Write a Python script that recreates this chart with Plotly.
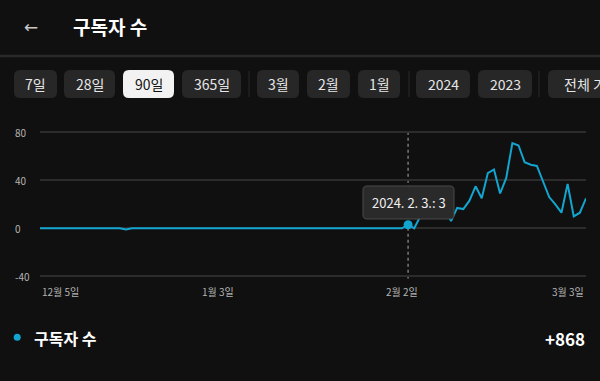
import pandas as pd
import plotly.graph_objects as go

W, H = 600, 381
FONT = "Noto Sans CJK KR"
BG = "#101010"
LINE = "#12a5cf"

# ---- data ----
start_date = "2023-12-05"
subscribers = [
    0, 0, 0, 0, 0, 0, 0, 0, 0, 0,
    0, 0, 0, 0, -1, 0, 0, 0, 0, 0,
    0, 0, 0, 0, 0, 0, 0, 0, 0, 0,
    0, 0, 0, 0, 0, 0, 0, 0, 0, 0,
    0, 0, 0, 0, 0, 0, 0, 0, 0, 0,
    0, 0, 0, 0, 0, 0, 0, 0, 0, 0,
    3, 0, 10, 20, 27, 22, 16, 6, 17, 16,
    23, 35, 25, 46, 49, 29, 42, 71, 69, 55,
    53, 52, 39, 26, 20, 13, 37, 10, 13, 25,
]
dates = pd.date_range(start_date, periods=len(subscribers), freq="D")

x_tick_dates = ["2023-12-05", "2024-01-03", "2024-02-02", "2024-03-03"]
x_tick_labels = ["12월 5일", "1월 3일", "2월 2일", "3월 3일"]
y_ticks = [80, 40, 0, -40]

highlight_date = "2024-02-03"
highlight_value = 3
tooltip_text = "2024. 2. 3.: 3"

buttons = ["7일", "28일", "90일", "365일", "3월", "2월", "1월", "2024", "2023", "전체 기간"]
selected_button = "90일"
total_label = "+868"
series_name = "구독자 수"
title = "구독자 수"

# ---- layout geometry (pixels) ----
button_x = [(14, 57), (64, 115), (123, 174), (182, 241), (257, 299), (307, 350),
            (358, 400), (416, 470), (478, 532), (548, 660)]
separators_x = [249, 409, 539]


def px(x):
    return x / W


def py(y):
    return 1 - y / H


def rrect(x0, y0, x1, y1, r):
    pts = [
        ("M", [(x0 + r, y0)]), ("L", [(x1 - r, y0)]), ("Q", [(x1, y0), (x1, y0 + r)]),
        ("L", [(x1, y1 - r)]), ("Q", [(x1, y1), (x1 - r, y1)]), ("L", [(x0 + r, y1)]),
        ("Q", [(x0, y1), (x0, y1 - r)]), ("L", [(x0, y0 + r)]), ("Q", [(x0, y0), (x0 + r, y0)]),
    ]
    s = ""
    for cmd, ps in pts:
        s += cmd + " " + " ".join(f"{px(a):.5f},{py(b):.5f}" for a, b in ps) + " "
    return s + "Z"


fig = go.Figure()
fig.add_trace(go.Scatter(x=dates, y=subscribers, mode="lines",
                         line=dict(color=LINE, width=2), hoverinfo="skip"))
fig.add_trace(go.Scatter(x=[highlight_date], y=[highlight_value], mode="markers",
                         marker=dict(color=LINE, size=9), hoverinfo="skip"))

# plot area: x 40..586 px ; y: value 0 at 228.3 px, 1.2 px per unit
y_lo, y_hi = -42, 82
top_px = 228.3 - y_hi * 1.2
bot_px = 228.3 - y_lo * 1.2

shapes = []
annotations = []

# header
shapes.append(dict(type="line", xref="paper", yref="paper", x0=0, x1=1,
                   y0=py(56), y1=py(56), line=dict(color="#2a2a2a", width=2.5)))
annotations.append(dict(xref="paper", yref="paper", x=px(31), y=py(27), text="←",
                        showarrow=False, font=dict(family="DejaVu Sans", size=17, color="#c8c8c8"),
                        xanchor="center", yanchor="middle"))
annotations.append(dict(xref="paper", yref="paper", x=px(71), y=py(27), text=f"<b>{title}</b>",
                        showarrow=False, font=dict(family=FONT, size=19, color="#ffffff"),
                        xanchor="left", yanchor="middle"))

# buttons
for label, (bx0, bx1) in zip(buttons, button_x):
    sel = label == selected_button
    shapes.append(dict(type="path", xref="paper", yref="paper",
                       path=rrect(bx0, 70, bx1, 98, 6),
                       fillcolor="#f2f2f2" if sel else "#272727", line=dict(width=0)))
    if bx1 > W:
        annotations.append(dict(xref="paper", yref="paper", x=px(bx0 + 14), y=py(84), text=label,
                                showarrow=False, xanchor="left", yanchor="middle",
                                font=dict(family=FONT, size=14, color="#e6e6e6")))
    else:
        annotations.append(dict(xref="paper", yref="paper", x=px((bx0 + bx1) / 2), y=py(84),
                                text=label, showarrow=False, xanchor="center", yanchor="middle",
                                font=dict(family=FONT, size=14,
                                          color="#111111" if sel else "#e6e6e6")))
for sx in separators_x:
    shapes.append(dict(type="line", xref="paper", yref="paper", x0=px(sx), x1=px(sx),
                       y0=py(71), y1=py(97), line=dict(color="#262626", width=1.2)))

# dashed crosshair
shapes.append(dict(type="line", xref="x", yref="y", x0=highlight_date, x1=highlight_date,
                   y0=y_lo, y1=y_hi, line=dict(color="#7a7a7a", width=1.5, dash="3px,3px"),
                   layer="below"))

# tooltip
shapes.append(dict(type="path", xref="paper", yref="paper", path=rrect(363, 186, 454, 219, 4),
                   fillcolor="#2a2a2a", line=dict(color="#4a4a4a", width=1), layer="above"))
annotations.append(dict(xref="paper", yref="paper", x=px(408.5), y=py(202.5), text=tooltip_text,
                        showarrow=False, xanchor="center", yanchor="middle",
                        font=dict(family=FONT, size=13, color="#f0f0f0")))

# y tick labels (left aligned)
for v in y_ticks:
    annotations.append(dict(xref="paper", yref="y", x=px(13), y=v, text=str(v), showarrow=False,
                            xanchor="left", yanchor="middle",
                            font=dict(family=FONT, size=10, color="#b4b4b4")))

# x tick labels
anchors = ["left", "center", "center", "right"]
for d, lab, a in zip(x_tick_dates, x_tick_labels, anchors):
    annotations.append(dict(xref="x", yref="paper", x=d, y=py(291.5), text=lab, showarrow=False,
                            xanchor=a, yanchor="middle",
                            font=dict(family=FONT, size=10, color="#b4b4b4")))

# legend row
shapes.append(dict(type="circle", xref="paper", yref="paper", x0=px(13.7), x1=px(20.7),
                   y0=py(333.8), y1=py(340.8), fillcolor=LINE, line=dict(width=0)))
annotations.append(dict(xref="paper", yref="paper", x=px(32), y=py(337.5),
                        text=f"<b>{series_name}</b>", showarrow=False, xanchor="left",
                        yanchor="middle", font=dict(family=FONT, size=16, color="#ffffff")))
annotations.append(dict(xref="paper", yref="paper", x=px(587), y=py(338),
                        text=f"<b>{total_label}</b>", showarrow=False, xanchor="right",
                        yanchor="middle", font=dict(family=FONT, size=17, color="#ffffff")))

fig.update_layout(
    width=W, height=H, margin=dict(l=0, r=0, t=0, b=0),
    paper_bgcolor=BG, plot_bgcolor=BG, showlegend=False,
    font=dict(family=FONT),
    xaxis=dict(domain=[px(40), px(586)], type="date",
               range=[dates[0], dates[-1]], showgrid=False, zeroline=False,
               showticklabels=False, ticks="", showline=False, fixedrange=True),
    yaxis=dict(domain=[py(bot_px), py(top_px)], range=[y_lo, y_hi],
               tickvals=y_ticks, showticklabels=False, gridcolor="#2c2c2c", gridwidth=1.5,
               zeroline=False, showline=False, ticks="", fixedrange=True),
    shapes=shapes, annotations=annotations, hovermode=False,
)

fig.write_html(
    "out.html",
    config={"displayModeBar": False},
    post_script="document.body.style.margin='0';document.body.style.overflow='hidden';"
                "document.body.style.background='#101010';",
)
